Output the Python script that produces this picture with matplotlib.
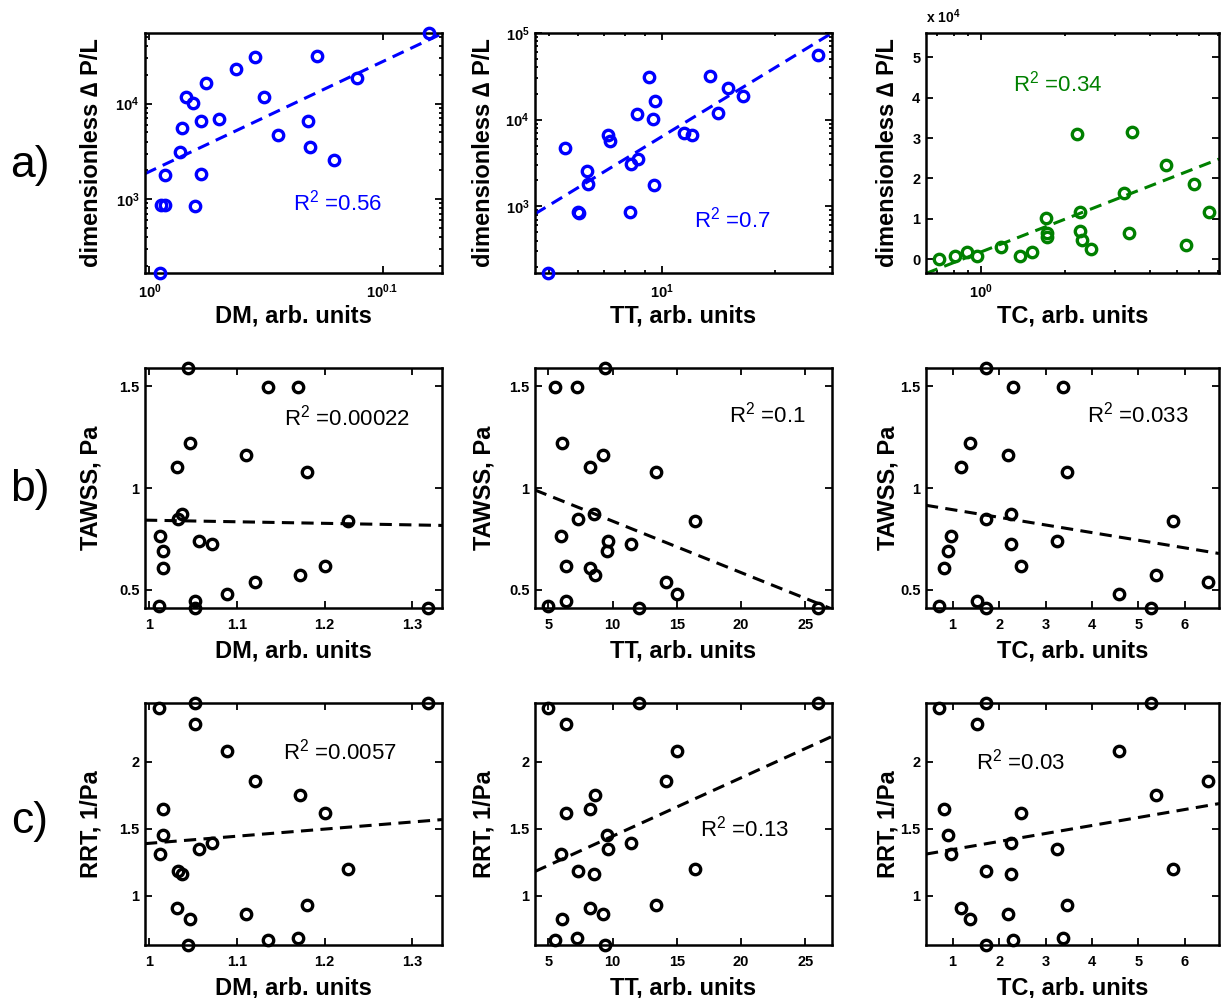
import numpy as np
import matplotlib
matplotlib.use("Agg")
import matplotlib.pyplot as plt
from matplotlib.ticker import FixedLocator, NullFormatter, LogLocator

plt.rcParams['font.family'] = ['Liberation Sans', 'DejaVu Sans']
plt.rcParams['mathtext.default'] = 'regular'

# one value per case (23 cases)
dm = np.array([1.044, 1.135, 1.170, 1.046, 1.110, 1.031, 1.180, 1.037, 1.033, 1.227, 1.012, 1.057,
               1.071, 1.016, 1.200, 1.016, 1.172, 1.120, 1.089, 1.052, 1.011, 1.052, 1.318])
tt = np.array([9.44, 5.52, 7.20, 6.03, 9.26, 8.26, 13.38, 8.58, 7.29, 16.38, 5.99, 9.61,
               11.44, 9.55, 6.34, 8.24, 8.62, 14.13, 15.0, 6.37, 4.97, 12.04, 26.0])
tc = np.array([1.71, 2.30, 3.37, 1.38, 2.20, 1.18, 3.47, 2.26, 1.72, 5.74, 0.97, 3.25,
               2.25, 0.89, 2.47, 0.81, 5.37, 6.50, 4.58, 1.52, 0.71, 1.72, 5.28])
dpl = np.array([10150, 4720, 6570, 840, 31000, 3100, 31600, 11600, 5600, 18650, 860, 16450,
                6980, 1775, 2570, 860, 3500, 11800, 23350, 1825, 169, 6580, 55000])
tawss = np.array([1.59, 1.497, 1.497, 1.22, 1.16, 1.103, 1.078, 0.87, 0.85, 0.837, 0.764, 0.74,
                  0.723, 0.69, 0.617, 0.609, 0.573, 0.539, 0.479, 0.446, 0.418, 0.41, 0.41])
rrt = np.array([0.63, 0.67, 0.68, 0.825, 0.86, 0.905, 0.93, 1.16, 1.18, 1.20, 1.31, 1.35,
                1.39, 1.45, 1.62, 1.65, 1.75, 1.86, 2.08, 2.28, 2.40, 2.44, 2.44])

# fitted lines (end points at the axes edges) and R^2 values
fit_a = [([0.9957, 1.335], [1845, 54200]), ([4.6, 28.3], [815, 1.0e5]), ([0.637, 7.07], [-3500, 24800])]
fit_b = [([0.995, 1.334], [0.842, 0.816]), ([3.96, 27.08], [0.99, 0.405]), ([0.427, 6.735], [0.915, 0.678])]
fit_c = [([0.995, 1.334], [1.388, 1.568]), ([3.96, 27.08], [1.18, 2.19]), ([0.427, 6.735], [1.31, 1.6875])]
r2_a = ['0.56', '0.7', '0.34']
r2_b = ['0.00022', '0.1', '0.033']
r2_c = ['0.0057', '0.13', '0.03']

xnames = ['DM, arb. units', 'TT, arb. units', 'TC, arb. units']
xs = [dm, tt, tc]

fig = plt.figure(figsize=(12.25, 9.98), dpi=100)
W, H = 1225.0, 998.0
lefts = [145, 535, 926]
widths = [297, 297, 293]
rows = [(33, 273), (368, 608), (703, 945)]
ylabel_x = [91, 484, 888]


def make_ax(r, c):
    top, bot = rows[r]
    ax = fig.add_axes([lefts[c] / W, 1 - bot / H, widths[c] / W, (bot - top) / H])
    for s in ax.spines.values():
        s.set_linewidth(1.8)
    ax.tick_params(which='both', direction='in', top=True, right=True, width=1.3,
                   labelsize=10.5, pad=4)
    ax.tick_params(which='major', length=5)
    ax.tick_params(which='minor', length=2.5)
    ax.tick_params(axis='x', pad=7)
    return ax


def finish(ax, r, c, xlabel, ylabel):
    top, bot = rows[r]
    h = bot - top
    ax.set_xlabel(xlabel, fontsize=17, fontweight='bold', va='center')
    ax.xaxis.set_label_coords(0.5, -43 / h)
    ax.set_ylabel(ylabel, fontsize=17, fontweight='bold', va='center')
    ax.yaxis.set_label_coords((ylabel_x[c] - lefts[c]) / widths[c], 0.5)
    for lab in ax.get_xticklabels() + ax.get_yticklabels():
        lab.set_fontweight('bold')


def r2_text(ax, fx, fy, val, color):
    ax.text(fx, fy, 'R$^2$ =' + val, transform=ax.transAxes, fontsize=16,
            color=color, ha='left', va='center')


mk = dict(marker='o', mfc='none', ms=7.5, mew=2.4, ls='none', clip_on=False, zorder=3)
dash = dict(ls=(0, (4, 2.4)), lw=2.2)

# row a) pressure drop
a_pos = [(0.498, 0.292), (0.535, 0.221), (0.297, 0.788)]
for c in range(3):
    ax = make_ax(0, c)
    col = (0, 0.5, 0) if c == 2 else (0, 0, 1)
    if c == 2:
        keep = dpl < 5e4  # largest case not shown on the linear axis
        ax.plot(tc[keep], dpl[keep], mec=col, **mk)
    else:
        ax.plot(xs[c], dpl, mec=col, **mk)
    ax.plot(fit_a[c][0], fit_a[c][1], color=col, **dash)
    ax.set_xscale('log')
    if c < 2:
        ax.set_yscale('log')
    r2_text(ax, a_pos[c][0], a_pos[c][1], r2_a[c], col)
    if c == 0:
        ax.set_xlim(0.9957, 1.335)
        ax.set_ylim(168, 55000)
        ax.xaxis.set_major_locator(FixedLocator([1.0, 10 ** 0.1]))
        ax.set_xticklabels(['$10^{0}$', '$10^{0.1}$'])
        ax.xaxis.set_minor_locator(FixedLocator([]))
    elif c == 1:
        ax.set_xlim(4.6, 28.3)
        ax.set_ylim(169, 1.0e5)
        ax.xaxis.set_major_locator(FixedLocator([10.0]))
        ax.set_xticklabels(['$10^{1}$'])
    else:
        ax.set_xlim(0.637, 7.07)
        ax.set_ylim(-3400, 56000)
        ax.xaxis.set_major_locator(FixedLocator([1.0]))
        ax.set_xticklabels(['$10^{0}$'])
        ax.set_yticks([0, 1e4, 2e4, 3e4, 4e4, 5e4])
        ax.set_yticklabels(['0', '1', '2', '3', '4', '5'])
        ax.text(0.0, 1.03, 'x 10$^4$', transform=ax.transAxes, fontsize=10,
                fontweight='bold', ha='left', va='bottom')
    if c < 2:
        ax.yaxis.set_major_locator(FixedLocator([1e3, 1e4, 1e5]))
        ax.set_yticklabels(['$10^{3}$', '$10^{4}$', '$10^{5}$'])
        ax.yaxis.set_minor_locator(LogLocator(base=10, subs=np.arange(2, 10)))
        ax.yaxis.set_minor_formatter(NullFormatter())
    ax.xaxis.set_minor_formatter(NullFormatter())
    finish(ax, 0, c, xnames[c], 'dimensionless \u2206 P/L')

# rows b) and c) wall shear stress and residence time
xl = [(0.995, 1.334), (3.96, 27.08), (0.427, 6.735)]
xt = [[1, 1.1, 1.2, 1.3], [5, 10, 15, 20, 25], [1, 2, 3, 4, 5, 6]]
b_pos = [(0.468, 0.792), (0.653, 0.804), (0.549, 0.804)]
c_pos = [(0.465, 0.798), (0.556, 0.483), (0.171, 0.756)]
for c in range(3):
    ax = make_ax(1, c)
    ax.plot(xs[c], tawss, mec='black', **mk)
    ax.plot(fit_b[c][0], fit_b[c][1], color='black', **dash)
    ax.set_xlim(*xl[c])
    ax.set_ylim(0.41, 1.59)
    ax.set_xticks(xt[c])
    ax.set_xticklabels(['%g' % v for v in xt[c]])
    ax.set_yticks([0.5, 1, 1.5])
    ax.set_yticklabels(['0.5', '1', '1.5'])
    r2_text(ax, b_pos[c][0], b_pos[c][1], r2_b[c], 'black')
    finish(ax, 1, c, xnames[c], 'TAWSS, Pa')

    ax = make_ax(2, c)
    ax.plot(xs[c], rrt, mec='black', **mk)
    ax.plot(fit_c[c][0], fit_c[c][1], color='black', **dash)
    ax.set_xlim(*xl[c])
    ax.set_ylim(0.63, 2.44)
    ax.set_xticks(xt[c])
    ax.set_xticklabels(['%g' % v for v in xt[c]])
    ax.set_yticks([1, 1.5, 2])
    ax.set_yticklabels(['1', '1.5', '2'])
    r2_text(ax, c_pos[c][0], c_pos[c][1], r2_c[c], 'black')
    finish(ax, 2, c, xnames[c], 'RRT, 1/Pa')

for lab, y in zip(['a)', 'b)', 'c)'], [166, 490, 822]):
    fig.text(30 / W, 1 - y / H, lab, fontsize=32, ha='center', va='center')

fig.savefig('out.png', dpi=100)
